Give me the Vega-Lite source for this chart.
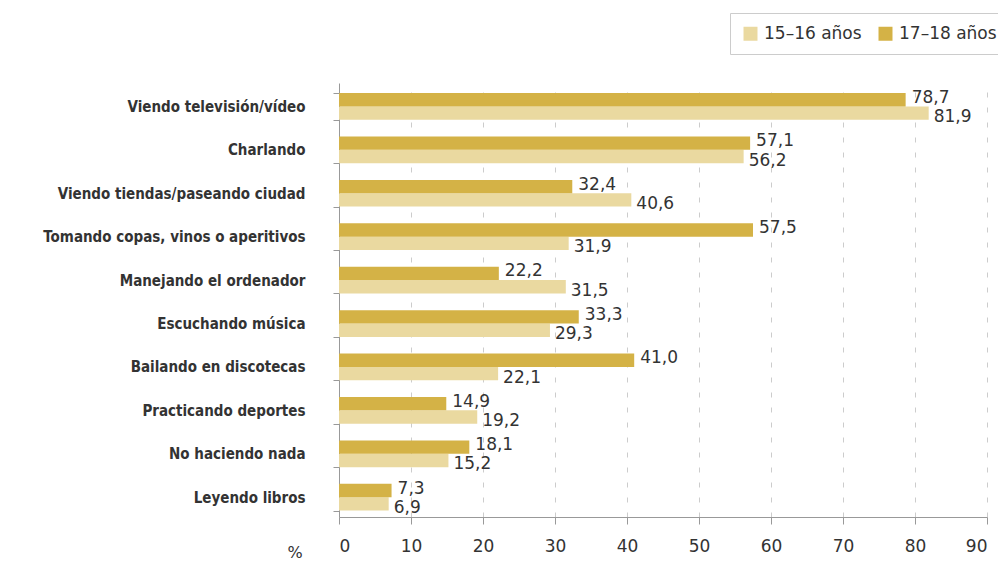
{
  "$schema": "https://vega.github.io/schema/vega-lite/v6.json",
  "width": 648,
  "height": 434,
  "autosize": {"type": "none"},
  "padding": {"left": 339, "top": 83, "right": 11, "bottom": 45},
  "background": "white",
  "config": {
    "locale": {"number": {"decimal": ",", "thousands": ".", "grouping": [3], "currency": ["", " €"]}},
    "view": {"stroke": null},
    "font": "DejaVu Sans"
  },
  "data": {
    "values": [
      {"actividad": "Viendo televisión/vídeo", "edad": "15–16 años", "valor": 81.9},
      {"actividad": "Viendo televisión/vídeo", "edad": "17–18 años", "valor": 78.7},
      {"actividad": "Charlando", "edad": "15–16 años", "valor": 56.2},
      {"actividad": "Charlando", "edad": "17–18 años", "valor": 57.1},
      {"actividad": "Viendo tiendas/paseando ciudad\u00a0\u00a0\u00a0", "edad": "15–16 años", "valor": 40.6},
      {"actividad": "Viendo tiendas/paseando ciudad\u00a0\u00a0\u00a0", "edad": "17–18 años", "valor": 32.4},
      {"actividad": "Tomando copas, vinos o aperitivos\u00a0\u00a0\u00a0", "edad": "15–16 años", "valor": 31.9},
      {"actividad": "Tomando copas, vinos o aperitivos\u00a0\u00a0\u00a0", "edad": "17–18 años", "valor": 57.5},
      {"actividad": "Manejando el ordenador", "edad": "15–16 años", "valor": 31.5},
      {"actividad": "Manejando el ordenador", "edad": "17–18 años", "valor": 22.2},
      {"actividad": "Escuchando música", "edad": "15–16 años", "valor": 29.3},
      {"actividad": "Escuchando música", "edad": "17–18 años", "valor": 33.3},
      {"actividad": "Bailando en discotecas", "edad": "15–16 años", "valor": 22.1},
      {"actividad": "Bailando en discotecas", "edad": "17–18 años", "valor": 41.0},
      {"actividad": "Practicando deportes", "edad": "15–16 años", "valor": 19.2},
      {"actividad": "Practicando deportes", "edad": "17–18 años", "valor": 14.9},
      {"actividad": "No haciendo nada", "edad": "15–16 años", "valor": 15.2},
      {"actividad": "No haciendo nada", "edad": "17–18 años", "valor": 18.1},
      {"actividad": "Leyendo libros", "edad": "15–16 años", "valor": 6.9},
      {"actividad": "Leyendo libros", "edad": "17–18 años", "valor": 7.3}
    ]
  },
  "encoding": {
    "y": {
      "field": "actividad",
      "type": "nominal",
      "sort": null,
      "title": null,
      "scale": {"paddingInner": 0.385, "paddingOuter": 0.19, "align": 0.61},
      "axis": {
        "domainColor": "#999999",
        "tickColor": "#999999",
        "tickBand": "extent",
        "tickSize": 6,
        "labelPadding": 28,
        "labelFontSize": 15,
        "labelFontWeight": "bold",
        "labelColor": "#333333",
        "labelFont": "DejaVu Sans Condensed, Roboto",
        "labelLimit": 330
      }
    },
    "x": {
      "field": "valor",
      "type": "quantitative",
      "scale": {"domain": [0, 90], "nice": false},
      "title": null,
      "axis": {
        "values": [0, 10, 20, 30, 40, 50, 60, 70, 80, 90],
        "format": "d",
        "orient": "bottom",
        "domainColor": "#999999",
        "tickColor": "#999999",
        "tickSize": 7,
        "labelPadding": 14,
        "labelFontSize": 17,
        "labelColor": "#333333",
        "labelFont": "DejaVu Sans",
        "gridColor": "#cccccc",
        "gridDash": [5, 10],
        "gridWidth": 1
      }
    },
    "yOffset": {
      "field": "edad",
      "type": "nominal",
      "sort": ["17–18 años", "15–16 años"]
    }
  },
  "layer": [
    {
      "mark": {"type": "bar"},
      "encoding": {
        "color": {
          "field": "edad",
          "type": "nominal",
          "sort": ["15–16 años", "17–18 años"],
          "scale": {"domain": ["15–16 años", "17–18 años"], "range": ["#EAD9A0", "#D4B246"]},
          "legend": {
            "title": null,
            "orient": "none",
            "direction": "horizontal",
            "legendX": 391,
            "legendY": -70,
            "symbolType": "square",
            "symbolSize": 196,
            "symbolStrokeWidth": 0,
            "labelFontSize": 17,
            "labelFont": "DejaVu Sans",
            "labelColor": "#333333",
            "columnPadding": 15,
            "strokeColor": "#cccccc",
            "padding": 12,
            "labelOffset": 5
          }
        }
      }
    },
    {
      "transform": [{"filter": "datum.edad === '17–18 años'"}],
      "mark": {"type": "text", "align": "left", "baseline": "middle", "dx": 6, "dy": -2, "fontSize": 17, "color": "#333333"},
      "encoding": {
        "text": {"field": "valor", "type": "quantitative", "format": ".1f"}
      }
    },
    {
      "transform": [{"filter": "datum.edad === '15–16 años'"}],
      "mark": {"type": "text", "align": "left", "baseline": "middle", "dx": 5, "dy": 4, "fontSize": 17, "color": "#333333"},
      "encoding": {
        "text": {"field": "valor", "type": "quantitative", "format": ".1f"}
      }
    },
    {
      "data": {"values": [{"t": "%"}]},
      "mark": {"type": "text", "x": -44, "y": 478, "baseline": "bottom", "fontSize": 16, "color": "#333333", "align": "center"},
      "encoding": {"text": {"field": "t"}, "x": null, "y": null, "yOffset": null}
    }
  ]
}
